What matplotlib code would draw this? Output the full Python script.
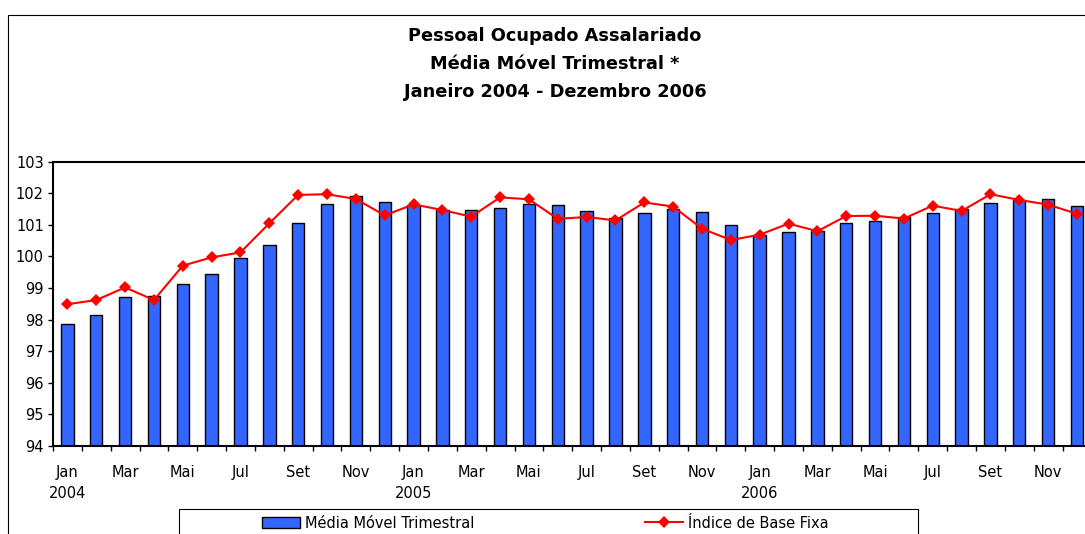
import matplotlib
matplotlib.use("Agg")
import matplotlib.pyplot as plt
from matplotlib.patches import Rectangle
from matplotlib.lines import Line2D
import numpy as np

plt.rcParams['font.family'] = ['DejaVu Sans']

# dados: jan/2004 - dez/2006
meses = ["Jan", "Fev", "Mar", "Abr", "Mai", "Jun",
         "Jul", "Ago", "Set", "Out", "Nov", "Dez"] * 3
anos = ["2004", "2005", "2006"]

media_movel = [97.86, 98.15, 98.73, 98.76, 99.13, 99.45, 99.94, 100.37, 101.05, 101.66, 101.92, 101.71,
               101.62, 101.47, 101.46, 101.53, 101.65, 101.63, 101.43, 101.23, 101.38, 101.49, 101.40, 101.00,
               100.68, 100.76, 100.80, 101.05, 101.12, 101.26, 101.39, 101.49, 101.70, 101.79, 101.81, 101.61]

indice_base_fixa = [98.49, 98.62, 99.02, 98.62, 99.71, 99.97, 100.13, 101.05, 101.95, 101.97, 101.82, 101.30,
                    101.65, 101.47, 101.26, 101.87, 101.81, 101.19, 101.25, 101.14, 101.71, 101.58, 100.88, 100.52,
                    100.69, 101.04, 100.80, 101.28, 101.29, 101.20, 101.61, 101.44, 101.97, 101.79, 101.64, 101.35]

W, H = 1085, 534
fig = plt.figure(figsize=(W / 100, H / 100), dpi=100)
ax = fig.add_axes([53 / W, 1 - 446 / H, (1091.4 - 53) / W, (446 - 161.7) / H])

x = np.arange(len(media_movel))
ax.bar(x, np.array(media_movel) - 94, bottom=94, width=0.43, color="#3366FF",
       edgecolor="black", linewidth=1.0, zorder=2)
ax.plot(x, indice_base_fixa, color="#FF0000", linewidth=1.5, marker="D",
        markersize=6.5, markeredgewidth=0, zorder=3, clip_on=False)

ax.set_ylim(94, 103)
ax.set_xlim(-0.5, len(x) - 0.5)
ax.set_yticks(range(94, 104))
ax.tick_params(axis="y", direction="out", length=3.6, width=1, labelsize=10.5, pad=3)

# rótulos a cada dois meses, ano sob janeiro
labels = []
for i in range(0, len(x), 2):
    lab = meses[i]
    if i % 12 == 0:
        lab += "\n" + anos[i // 12]
    labels.append(lab)
ax.set_xticks(x[::2])
ax.set_xticklabels(labels, fontsize=10.5, linespacing=1.5)
ax.tick_params(axis="x", which="major", length=0, pad=13.5)
ax.set_xticks(np.arange(-0.5, len(x)), minor=True)
ax.tick_params(axis="x", which="minor", direction="out", length=3.6, width=1)

for s in ax.spines.values():
    s.set_linewidth(1.5)

# moldura externa
fig.patches.append(Rectangle((8 / W, -0.1), 1.2, 1.1 - 15 / H, transform=fig.transFigure,
                             fill=False, edgecolor="black", linewidth=0.8))

# título
titulo = ["Pessoal Ocupado Assalariado", "Média Móvel Trimestral *", "Janeiro 2004 - Dezembro 2006"]
for t, yb in zip(titulo, [41, 69, 97]):
    fig.text(555 / W, 1 - yb / H, t, ha="center", va="baseline", fontsize=12.8, fontweight="bold")

# legenda
fig.patches.append(Rectangle((179 / W, -0.1), (918 - 179) / W, 0.1 + 1 - 509 / H,
                             transform=fig.transFigure, fill=False, edgecolor="black", linewidth=0.8))
h_barra = Rectangle((0, 0), 1, 1, facecolor="#3366FF", edgecolor="black", linewidth=1.0)
h_linha = Line2D([], [], color="#FF0000", linewidth=1.5, marker="D", markersize=6.5, markeredgewidth=0)
for h, nome, x0 in [(h_barra, "Média Móvel Trimestral", 262), (h_linha, "Índice de Base Fixa", 645)]:
    fig.legend([h], [nome], loc="center left", bbox_to_anchor=(x0 / W, 1 - 523 / H),
               frameon=False, fontsize=10.5, handlelength=2.6, handleheight=0.7,
               handletextpad=0.34, borderpad=0, borderaxespad=0)

fig.savefig("out.png", dpi=100)
